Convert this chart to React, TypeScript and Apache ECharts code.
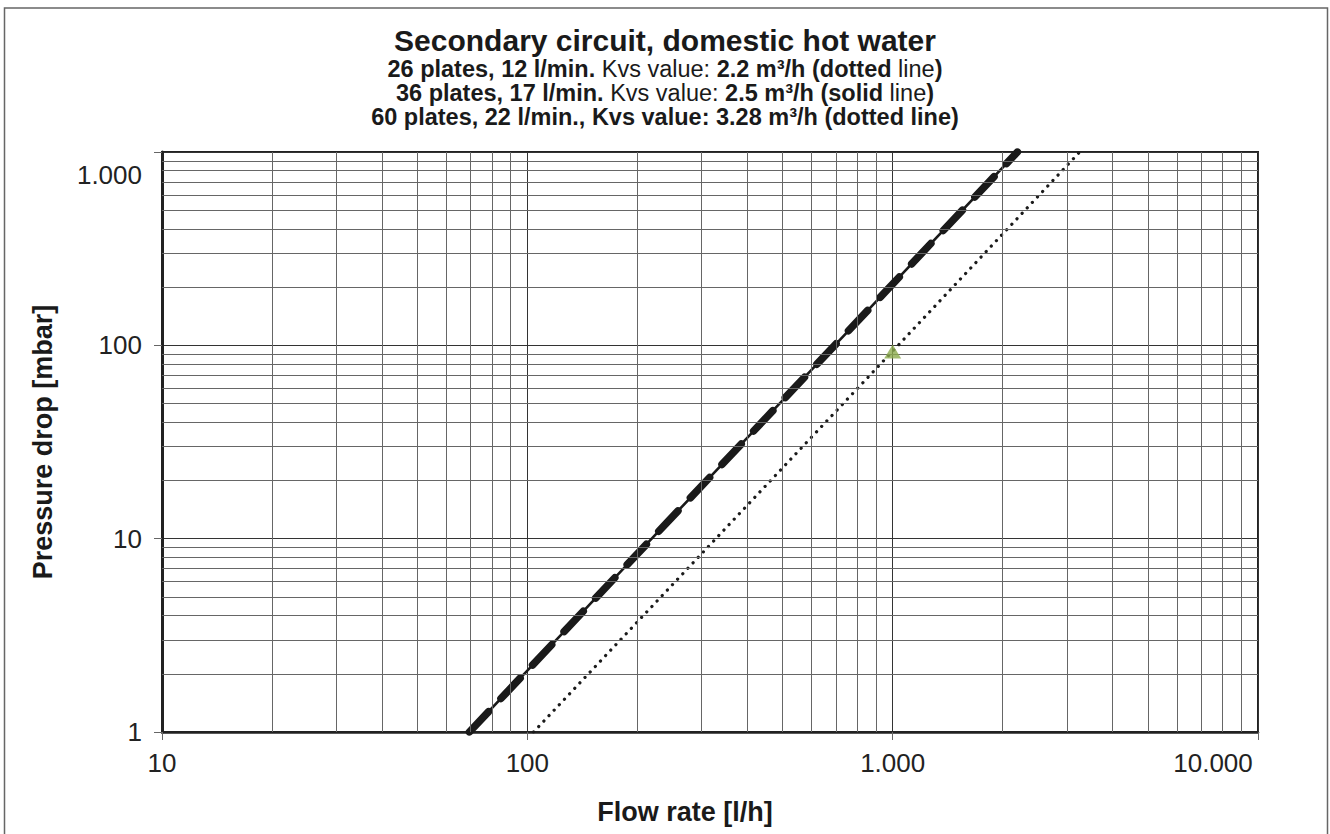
import React, { useEffect, useRef } from "react";
import * as echarts from "echarts";

// Axis ticks and labels
const xMajorTicks = [10, 100, 1000, 10000];
const xTickLabels = ["10", "100", "1.000", "10.000"];
const yMajorTicks = [1, 10, 100, 1000];
const yTickLabels = ["1", "10", "100", "1.000"];
const xMinorGrid = [20, 30, 40, 50, 60, 70, 80, 90, 200, 300, 400, 500, 600, 700, 800, 900, 2000, 3000, 4000, 5000, 6000, 7000, 8000, 9000];
const yMinorGrid = [2, 3, 4, 5, 6, 7, 8, 9, 20, 30, 40, 50, 60, 70, 80, 90, 200, 300, 400, 500, 600, 700, 800, 900];

// Series: flow rate [l/h] vs pressure drop [mbar]
const solidFlow = [69.4, 219, 694, 2195];
const solidDrop = [1, 10, 100, 1000];
const dottedFlow = [104, 328, 1035, 3250];
const dottedDrop = [1, 10, 100, 1000];
const markerFlow = [1000];
const markerDrop = [93];

const FONT = "'Liberation Sans', Arial, Helvetica, sans-serif";
const INK = "#1a1a1a";

export default function App() {
  const ref = useRef<HTMLDivElement>(null);
  useEffect(() => {
    if (!ref.current) return;
    const chart = echarts.init(ref.current, undefined, { renderer: "svg" });
    const solid = solidFlow.map((q, i) => [q, solidDrop[i]]);
    const dotted = dottedFlow.map((q, i) => [q, dottedDrop[i]]);
    const marker = markerFlow.map((q, i) => [q, markerDrop[i]]);
    const gridLines = [
      ...xMinorGrid.map((v) => ({ xAxis: v })),
      ...yMinorGrid.map((v) => ({ yAxis: v })),
    ];
    const option: any = {
      animation: false,
      backgroundColor: "#fff",
      textStyle: { fontFamily: FONT },
      title: {
        left: "center",
        top: 23,
        padding: 0,
        text:
          "{t|Secondary circuit, domestic hot water}\n" +
          "{b|26 plates, 12 l/min.}{n| Kvs value: }{b|2.2 m³/h (dotted}{n| line}{b|)}\n" +
          "{b|36 plates, 17 l/min.}{n| Kvs value: }{b|2.5 m³/h (solid}{n| line}{b|)}\n" +
          "{b|60 plates, 22 l/min., Kvs value: 3.28 m³/h (dotted line)}",
        textStyle: {
          fontFamily: FONT,
          color: INK,
          rich: {
            t: { fontSize: 30, fontWeight: "bold", fontFamily: FONT, color: INK, lineHeight: 34 },
            b: { fontSize: 23.5, fontWeight: "bold", fontFamily: FONT, color: INK, lineHeight: 24 },
            n: { fontSize: 23.5, fontWeight: "normal", fontFamily: FONT, color: INK, lineHeight: 24 },
          },
        },
      },
      graphic: [
        {
          type: "rect",
          shape: { x: 4.5, y: 8, width: 1323, height: 840 },
          style: { fill: "none", stroke: "#666", lineWidth: 1.5 },
          silent: true,
        },
      ],
      grid: {
        left: 162,
        right: 72,
        top: 152,
        bottom: 102,
        show: true,
        borderColor: "#222",
        borderWidth: 2,
        containLabel: false,
        outerBoundsMode: "none",
      },
      xAxis: {
        type: "log",
        logBase: 10,
        min: 10,
        max: 10000,
        name: "Flow rate [l/h]",
        nameLocation: "middle",
        nameGap: 66,
        nameTextStyle: { fontFamily: FONT, fontSize: 27, fontWeight: "bold", color: INK, padding: [0, 50, 0, 0] },
        axisLine: { show: true, lineStyle: { color: "#222", width: 2.5 } },
        axisTick: { show: true, length: 8, inside: false, lineStyle: { color: "#666", width: 1 } },
        axisLabel: {
          fontFamily: FONT,
          fontSize: 26,
          color: "#222",
          margin: 18,
          formatter: (v: number) => {
            const i = xMajorTicks.indexOf(Math.round(v));
            if (i < 0) return "";
            return i === xMajorTicks.length - 1 ? "{last|" + xTickLabels[i] + "}" : xTickLabels[i];
          },
          rich: {
            last: { fontFamily: FONT, fontSize: 26, color: "#222", padding: [0, 90, 0, 0] },
          },
        },
        splitLine: { show: true, lineStyle: { color: "#333", width: 1 } },
      },
      yAxis: {
        type: "log",
        logBase: 10,
        min: 1,
        max: 1000,
        name: "Pressure drop [mbar]",
        nameLocation: "middle",
        nameGap: 106,
        nameTextStyle: { fontFamily: FONT, fontSize: 27, fontWeight: "bold", color: INK },
        axisLine: { show: true, lineStyle: { color: "#222", width: 3 } },
        axisTick: { show: true, length: 8, inside: false, lineStyle: { color: "#666", width: 1 } },
        axisLabel: {
          fontFamily: FONT,
          fontSize: 26,
          color: "#222",
          margin: 20,
          formatter: (v: number) => {
            const i = yMajorTicks.indexOf(Math.round(v));
            if (i < 0) return "";
            return i === yMajorTicks.length - 1 ? "{top|" + yTickLabels[i] + "}" : yTickLabels[i];
          },
          rich: {
            top: { fontFamily: FONT, fontSize: 26, color: "#222", padding: [46, 0, 0, 0] },
          },
        },
        splitLine: { show: true, lineStyle: { color: "#333", width: 1 } },
      },
      series: [
        {
          name: "grid",
          type: "line",
          data: [],
          z: 1,
          silent: true,
          markLine: {
            silent: true,
            symbol: ["none", "none"],
            label: { show: false },
            lineStyle: { color: "#666", width: 1, type: "solid" },
            data: gridLines,
          },
        },
        {
          name: "36 plates (solid)",
          type: "line",
          data: solid,
          showSymbol: false,
          symbol: "none",
          lineStyle: { color: INK, width: 2.6, type: "solid" },
          z: 3,
        },
        {
          name: "26 plates (dotted)",
          type: "line",
          data: solid,
          showSymbol: false,
          symbol: "none",
          lineStyle: { color: INK, width: 7.5, type: [28, 18], cap: "round" },
          z: 4,
        },
        {
          name: "60 plates (dotted)",
          type: "line",
          data: dotted,
          showSymbol: false,
          symbol: "none",
          lineStyle: { color: INK, width: 3.2, type: [0.1, 7.4], cap: "round" },
          z: 3,
        },
        {
          name: "point",
          type: "scatter",
          data: marker,
          symbol: "triangle",
          symbolSize: [17, 14],
          itemStyle: { color: "#8cab4e" },
          z: 5,
        },
      ],
    };
    chart.setOption(option);
    return () => chart.dispose();
  }, []);
  return (
    <div
      ref={ref}
      style={{ position: "absolute", left: 0, top: 0, width: 1330, height: 834 }}
    />
  );
}
